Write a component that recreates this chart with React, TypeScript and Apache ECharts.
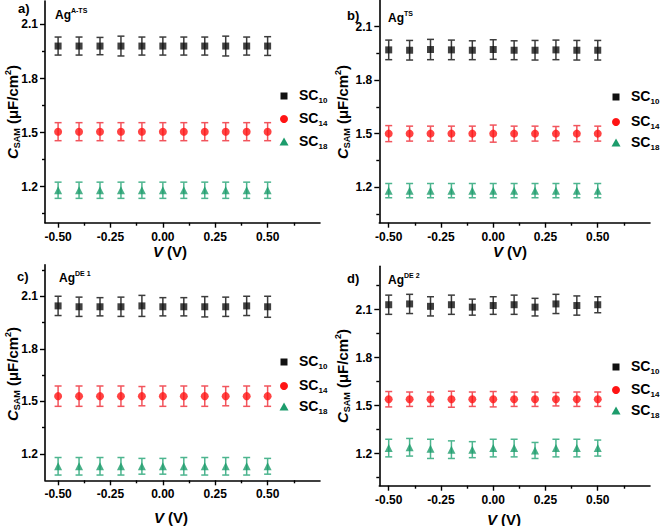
import React, { useEffect, useRef } from "react";
import * as echarts from "echarts";

// ---------- data ----------
const voltages = [-0.5, -0.4, -0.3, -0.2, -0.1, 0, 0.1, 0.2, 0.3, 0.4, 0.5];
const seriesNames = ["SC10", "SC14", "SC18"];
const xMajorTicks = [-0.5, -0.25, 0, 0.25, 0.5];
const xMinorTicks = [-0.375, -0.125, 0.125, 0.375, 0.625];
const yMajorTicks = [1.2, 1.5, 1.8, 2.1];
const yMinorTicks = [1.05, 1.35, 1.65, 1.95, 2.25];

// Panel a) Ag A-TS
const a_sc10 = [1.98, 1.98, 1.98, 1.98, 1.98, 1.98, 1.98, 1.98, 1.98, 1.98, 1.98];
const a_sc10_err = [0.05, 0.05, 0.048, 0.055, 0.05, 0.05, 0.05, 0.05, 0.055, 0.05, 0.052];
const a_sc14 = [1.505, 1.505, 1.505, 1.505, 1.505, 1.505, 1.505, 1.505, 1.505, 1.505, 1.505];
const a_sc14_err = [0.05, 0.05, 0.05, 0.05, 0.05, 0.05, 0.05, 0.05, 0.05, 0.05, 0.05];
const a_sc18 = [1.18, 1.18, 1.18, 1.18, 1.18, 1.18, 1.18, 1.18, 1.18, 1.18, 1.18];
const a_sc18_err = [0.045, 0.045, 0.045, 0.045, 0.045, 0.045, 0.045, 0.045, 0.045, 0.045, 0.045];

// Panel b) Ag TS
const b_sc10 = [1.97, 1.968, 1.972, 1.97, 1.968, 1.972, 1.968, 1.968, 1.97, 1.968, 1.968];
const b_sc10_err = [0.055, 0.055, 0.057, 0.055, 0.053, 0.055, 0.053, 0.055, 0.055, 0.055, 0.055];
const b_sc14 = [1.5, 1.5, 1.5, 1.5, 1.5, 1.5, 1.5, 1.5, 1.5, 1.5, 1.5];
const b_sc14_err = [0.045, 0.042, 0.042, 0.042, 0.042, 0.048, 0.042, 0.042, 0.04, 0.045, 0.042];
const b_sc18 = [1.18, 1.18, 1.18, 1.18, 1.18, 1.18, 1.18, 1.18, 1.18, 1.18, 1.18];
const b_sc18_err = [0.04, 0.04, 0.04, 0.04, 0.04, 0.04, 0.04, 0.04, 0.04, 0.04, 0.04];

// Panel c) Ag DE 1
const c_sc10 = [2.045, 2.04, 2.04, 2.04, 2.045, 2.04, 2.04, 2.04, 2.04, 2.045, 2.04];
const c_sc10_err = [0.055, 0.055, 0.052, 0.055, 0.06, 0.052, 0.052, 0.058, 0.055, 0.055, 0.06];
const c_sc14 = [1.53, 1.53, 1.53, 1.53, 1.53, 1.53, 1.53, 1.53, 1.53, 1.53, 1.53];
const c_sc14_err = [0.058, 0.058, 0.058, 0.058, 0.055, 0.058, 0.058, 0.058, 0.055, 0.058, 0.058];
const c_sc18 = [1.13, 1.13, 1.13, 1.13, 1.13, 1.13, 1.13, 1.13, 1.13, 1.13, 1.13];
const c_sc18_err = [0.05, 0.05, 0.05, 0.05, 0.045, 0.045, 0.05, 0.05, 0.05, 0.05, 0.045];

// Panel d) Ag DE 2
const d_sc10 = [2.13, 2.135, 2.12, 2.13, 2.115, 2.125, 2.13, 2.115, 2.135, 2.125, 2.13];
const d_sc10_err = [0.06, 0.06, 0.06, 0.06, 0.05, 0.055, 0.06, 0.055, 0.06, 0.06, 0.05];
const d_sc14 = [1.54, 1.54, 1.54, 1.54, 1.54, 1.54, 1.54, 1.54, 1.54, 1.54, 1.54];
const d_sc14_err = [0.048, 0.045, 0.045, 0.05, 0.045, 0.048, 0.045, 0.045, 0.042, 0.045, 0.045];
const d_sc18 = [1.235, 1.24, 1.23, 1.225, 1.225, 1.235, 1.235, 1.22, 1.235, 1.235, 1.235];
const d_sc18_err = [0.055, 0.055, 0.06, 0.055, 0.05, 0.055, 0.055, 0.05, 0.055, 0.055, 0.05];

// ---------- styling / layout ----------
const FONT = "'Liberation Sans', Arial, sans-serif";
const markerColors = ["#111111", "#ff1414", "#1d9c6c"];
const barColors = ["#3c3c3c", "#f2545c", "#4db58f"];
const symbols = ["rect", "circle", "triangle"];
const symbolSizes = [7, 8, 8];

const panels = [
  {
    label: "a)", sup: "A-TS", values: [a_sc10, a_sc14, a_sc18], errs: [a_sc10_err, a_sc14_err, a_sc18_err],
    grid: { left: 45, top: 1, width: 275, height: 221.7 }, xMin: -0.5625, xMax: 0.75, yMin: 1.0, yMax: 2.23,
    labelPos: [18, 8], agPos: [55, 14], legX: 284, legY: [96, 119, 142], titleY: [12, 112], titleX: [170, 251],
  },
  {
    label: "b)", sup: "TS", values: [b_sc10, b_sc14, b_sc18], errs: [b_sc10_err, b_sc14_err, b_sc18_err],
    grid: { left: 379.3, top: 0, width: 270.7, height: 222.7 }, xMin: -0.545, xMax: 0.75, yMin: 1.0, yMax: 2.25,
    labelPos: [347, 15], agPos: [388, 17], legX: 616, legY: [97, 122, 143], titleY: [342, 112], titleX: [510, 251],
  },
  {
    label: "c)", sup: "DE 1", values: [c_sc10, c_sc14, c_sc18], errs: [c_sc10_err, c_sc14_err, c_sc18_err],
    grid: { left: 45, top: 264.7, width: 275, height: 215.6 }, xMin: -0.5625, xMax: 0.75, yMin: 1.05, yMax: 2.28,
    labelPos: [17, 276], agPos: [59, 277], legX: 284, legY: [362, 386, 407], titleY: [12, 374], titleX: [171, 517],
  },
  {
    label: "d)", sup: "DE 2", values: [d_sc10, d_sc14, d_sc18], errs: [d_sc10_err, d_sc14_err, d_sc18_err],
    grid: { left: 379.3, top: 266.3, width: 270.7, height: 219.4 }, xMin: -0.545, xMax: 0.75, yMin: 1.0, yMax: 2.37,
    labelPos: [347, 278], agPos: [388, 279], legX: 616, legY: [367, 390, 411], titleY: [342, 376], titleX: [504, 519],
  },
];

function errorBarRender(color: string) {
  return (params: any, api: any) => {
    const x = api.value(0);
    const y = api.value(1);
    const e = api.value(2);
    const top = api.coord([x, y + e]);
    const bot = api.coord([x, y - e]);
    const hw = 3.5;
    const st = { stroke: color, lineWidth: 1.5 };
    return {
      type: "group",
      children: [
        { type: "line", shape: { x1: top[0], y1: top[1], x2: bot[0], y2: bot[1] }, style: st },
        { type: "line", shape: { x1: top[0] - hw, y1: top[1], x2: top[0] + hw, y2: top[1] }, style: st },
        { type: "line", shape: { x1: bot[0] - hw, y1: bot[1], x2: bot[0] + hw, y2: bot[1] }, style: st },
      ],
    };
  };
}

function buildOption() {
  const grid: any[] = [];
  const xAxis: any[] = [];
  const yAxis: any[] = [];
  const series: any[] = [];
  const graphic: any[] = [];

  panels.forEach((p, pi) => {
    grid.push({ ...p.grid, containLabel: false, outerBoundsMode: "none" });
    const lineStyle = { color: "#000", width: 1.6 };
    // major x
    xAxis.push({
      type: "value", gridIndex: pi, position: "bottom", min: p.xMin, max: p.xMax,
      axisLine: { show: true, onZero: false, lineStyle },
      axisTick: { show: true, inside: false, length: 5, customValues: xMajorTicks, lineStyle: { color: "#000", width: 1.4 } },
      axisLabel: {
        show: true, customValues: xMajorTicks, margin: 8, color: "#000", fontSize: 12, fontWeight: "bold", fontFamily: FONT,
        formatter: (v: number) => v.toFixed(2),
      },
      splitLine: { show: false },
    });
    // minor x
    xAxis.push({
      type: "value", gridIndex: pi, position: "bottom", min: p.xMin, max: p.xMax,
      axisLine: { show: false, onZero: false },
      axisTick: { show: true, inside: false, length: 3, customValues: xMinorTicks.filter((v) => v > p.xMin && v < p.xMax), lineStyle: { color: "#000", width: 1.4 } },
      axisLabel: { show: false },
      splitLine: { show: false },
    });
    // major y
    yAxis.push({
      type: "value", gridIndex: pi, position: "left", min: p.yMin, max: p.yMax,
      axisLine: { show: true, onZero: false, lineStyle },
      axisTick: { show: true, inside: false, length: 5, customValues: yMajorTicks, lineStyle: { color: "#000", width: 1.4 } },
      axisLabel: {
        show: true, customValues: yMajorTicks, margin: 7, color: "#000", fontSize: 12, fontWeight: "bold", fontFamily: FONT,
        formatter: (v: number) => v.toFixed(1),
      },
      splitLine: { show: false },
    });
    // minor y
    yAxis.push({
      type: "value", gridIndex: pi, position: "left", min: p.yMin, max: p.yMax,
      axisLine: { show: false, onZero: false },
      axisTick: { show: true, inside: false, length: 3, customValues: yMinorTicks.filter((v) => v > p.yMin + 0.01 && v < p.yMax), lineStyle: { color: "#000", width: 1.4 } },
      axisLabel: { show: false },
      splitLine: { show: false },
    });

    const xi = pi * 2;
    const yi = pi * 2;
    seriesNames.forEach((name, si) => {
      series.push({
        type: "custom", name: name + "-err-" + pi, xAxisIndex: xi, yAxisIndex: yi,
        renderItem: errorBarRender(barColors[si]),
        data: voltages.map((v, k) => [v, p.values[si][k], p.errs[si][k]]),
        encode: { x: 0, y: 1 }, z: 2, silent: true,
      });
      series.push({
        type: "scatter", name, xAxisIndex: xi, yAxisIndex: yi,
        symbol: symbols[si], symbolSize: symbolSizes[si],
        itemStyle: { color: markerColors[si] },
        data: voltages.map((v, k) => [v, p.values[si][k]]),
        z: 3,
      });
    });

    // panel label
    graphic.push({
      type: "text", x: p.labelPos[0], y: p.labelPos[1],
      style: { text: p.label, font: `bold 13px ${FONT}`, fill: "#000", verticalAlign: "middle" },
    });
    // Ag superscript label
    graphic.push({
      type: "text", x: p.agPos[0], y: p.agPos[1] - 7,
      style: {
        text: `{m|Ag}{s|${p.sup}}`, fill: "#000",
        rich: {
          m: { fontSize: 12, fontWeight: "bold", fontFamily: FONT, fill: "#000", verticalAlign: "bottom", lineHeight: 14 },
          s: { fontSize: 7, fontWeight: "bold", fontFamily: FONT, fill: "#000", verticalAlign: "top", lineHeight: 8 },
        },
      },
    });
    // legend
    seriesNames.forEach((name, si) => {
      const cx = p.legX;
      const cy = p.legY[si];
      if (si === 0) {
        graphic.push({ type: "rect", shape: { x: cx - 3.5, y: cy - 3.5, width: 7, height: 7 }, style: { fill: markerColors[0] } });
      } else if (si === 1) {
        graphic.push({ type: "circle", shape: { cx, cy, r: 4 }, style: { fill: markerColors[1] } });
      } else {
        graphic.push({ type: "polygon", shape: { points: [[cx, cy - 4.5], [cx + 4.5, cy + 3.5], [cx - 4.5, cy + 3.5]] }, style: { fill: markerColors[2] } });
      }
      graphic.push({
        type: "text", x: cx + 15, y: cy - 8.5,
        style: {
          text: `{m|SC}{s|${name.slice(2)}}`, fill: "#000",
          rich: {
            m: { fontSize: 14, fontWeight: "bold", fontFamily: FONT, fill: "#000", verticalAlign: "top", lineHeight: 17 },
            s: { fontSize: 8, fontWeight: "bold", fontFamily: FONT, fill: "#000", verticalAlign: "bottom", lineHeight: 9 },
          },
        },
      });
    });
    // y title
    graphic.push({
      type: "text", x: p.titleY[0], y: p.titleY[1], rotation: Math.PI / 2,
      style: {
        text: "{c|C}{sub|SAM}{n| (μF/cm}{sup|2}{n|)}", fill: "#000", align: "center", verticalAlign: "middle",
        rich: {
          c: { fontSize: 15, fontWeight: "bold", fontStyle: "italic", fontFamily: FONT, fill: "#000", lineHeight: 18 },
          sub: { fontSize: 9, fontWeight: "bold", fontFamily: FONT, fill: "#000", verticalAlign: "bottom", lineHeight: 10 },
          n: { fontSize: 15, fontWeight: "bold", fontFamily: FONT, fill: "#000", lineHeight: 18 },
          sup: { fontSize: 9, fontWeight: "bold", fontFamily: FONT, fill: "#000", verticalAlign: "top", lineHeight: 10 },
        },
      },
    });
    // x title
    graphic.push({
      type: "text", x: p.titleX[0], y: p.titleX[1],
      style: {
        text: "{i|V}{n| (V)}", fill: "#000", align: "center", verticalAlign: "middle",
        rich: {
          i: { fontSize: 15, fontWeight: "bold", fontStyle: "italic", fontFamily: FONT, fill: "#000", lineHeight: 16 },
          n: { fontSize: 15, fontWeight: "bold", fontFamily: FONT, fill: "#000", lineHeight: 16 },
        },
      },
    });
  });

  return {
    animation: false,
    backgroundColor: "#ffffff",
    grid, xAxis, yAxis, series, graphic,
  };
}

export default function App() {
  const ref = useRef<HTMLDivElement>(null);
  useEffect(() => {
    if (!ref.current) return;
    const chart = echarts.init(ref.current, undefined, { renderer: "svg" });
    chart.setOption(buildOption() as any);
    return () => chart.dispose();
  }, []);
  return (
    <div
      ref={ref}
      style={{ position: "fixed", left: 0, top: 0, width: 661, height: 526, background: "#fff" }}
    />
  );
}
